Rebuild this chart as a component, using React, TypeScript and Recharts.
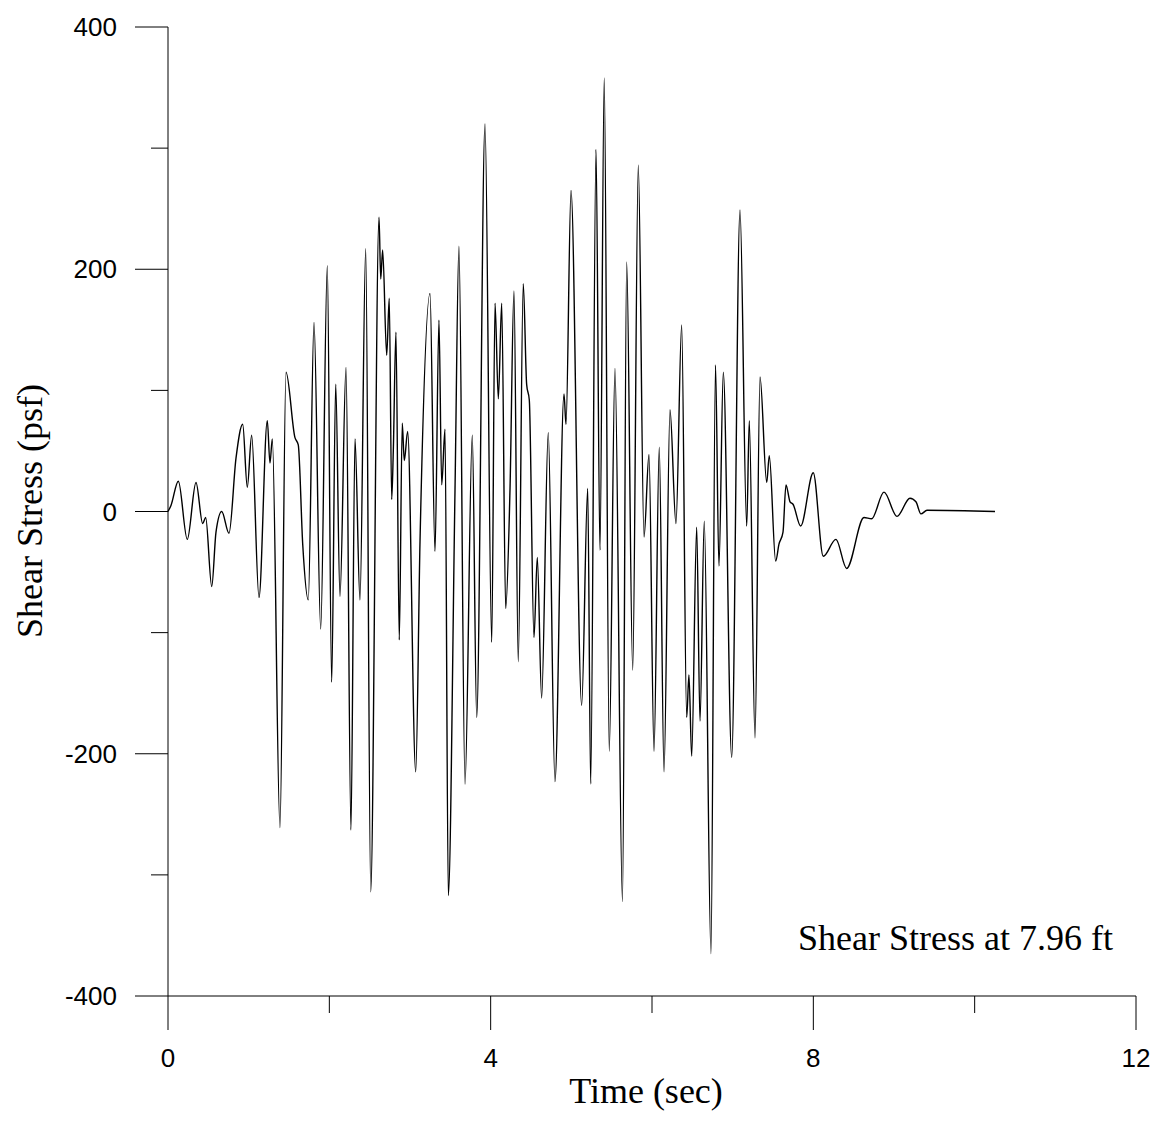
import React from 'react';
import { LineChart, Line, XAxis, YAxis, Customized } from 'recharts';

// Time (sec) of each read extreme / inflection point
const timeSec = [
  0, 0.037, 0.128, 0.239, 0.347, 0.43, 0.467, 0.542, 0.595, 0.666, 0.756, 0.843, 0.926, 0.983,
  1.037, 1.128, 1.231, 1.264, 1.293, 1.388, 1.463, 1.574, 1.615, 1.67, 1.739, 1.81, 1.893, 1.975,
  2.029, 2.079, 2.132, 2.207, 2.268, 2.318, 2.38, 2.451, 2.513, 2.616, 2.637, 2.661, 2.711, 2.743,
  2.773, 2.793, 2.826, 2.867, 2.904, 2.929, 2.971, 3.071, 3.124, 3.248, 3.31, 3.359, 3.393, 3.434,
  3.475, 3.558, 3.607, 3.682, 3.772, 3.827, 3.93, 4.013, 4.054, 4.095, 4.137, 4.186, 4.24, 4.289,
  4.342, 4.404, 4.446, 4.479, 4.537, 4.578, 4.632, 4.714, 4.797, 4.909, 4.934, 4.996, 5.128, 5.203,
  5.24, 5.306, 5.355, 5.408, 5.47, 5.541, 5.634, 5.686, 5.761, 5.83, 5.901, 5.963, 6.025, 6.09,
  6.149, 6.223, 6.297, 6.368, 6.43, 6.458, 6.492, 6.554, 6.595, 6.648, 6.731, 6.787, 6.83, 6.884,
  6.988, 7.091, 7.174, 7.206, 7.277, 7.339, 7.422, 7.454, 7.533, 7.574, 7.624, 7.661, 7.711, 7.748,
  7.843, 7.999, 8.123, 8.28, 8.413, 8.628, 8.723, 8.876, 9.037, 9.198, 9.272, 9.334, 9.409, 10.252,
];

// Shear stress (psf) at those times
const shearPsf = [
  0, 5, 25, -23, 24, -10, -5, -62, -17, 0, -18, 44, 72, 20,
  63, -71, 75, 40, 60, -261, 115, 61, 55, -27, -73, 156, -97, 203,
  -141, 105, -70, 119, -263, 60, -73, 217, -314, 243, 192, 216, 129, 176,
  10, 50, 148, -106, 73, 42, 66, -215, -25, 180, -33, 158, 22, 68,
  -317, 18, 219, -225, 63, -170, 320, -108, 172, 93, 172, -80, 19, 182,
  -124, 188, 105, 92, -104, -38, -154, 65, -223, 97, 72, 265, -160, 19,
  -225, 299, -32, 358, -198, 118, -322, 206, -131, 286, -21, 47, -198, 53,
  -215, 84, -10, 154, -170, -135, -202, -13, -173, -8, -365, 121, -45, 115,
  -203, 249, -12, 75, -187, 111, 24, 46, -41, -27, -17, 22, 8, 6,
  -12, 32, -37, -23, -47, -5, -6, 16, -4, 11, 8, -2, 1, 0,
];

const xTicks = [0, 2, 4, 6, 8, 10, 12];
const xMajorLabels = ['0', '4', '8', '12'];
const yTicks = [-400, -300, -200, -100, 0, 100, 200, 300, 400];
const yMajorLabels = ['-400', '-200', '0', '200', '400'];

const xTitle = 'Time (sec)';
const yTitle = 'Shear Stress (psf)';
const note = 'Shear Stress at 7.96 ft';

const data = timeSec.map((t, i) => ({ t, v: shearPsf[i] }));

const SANS = '"Liberation Sans", Arial, sans-serif';
const SERIF = '"Liberation Serif", "Times New Roman", serif';

const XTick = (props: any) => {
  const { x, y, payload } = props;
  const label = String(payload.value);
  const major = xMajorLabels.includes(label);
  return (
    <g>
      <line x1={x} y1={y} x2={x} y2={y + (major ? 34 : 17)} stroke="#000" strokeWidth={1} />
      {major && (
        <text x={x} y={y + 62} textAnchor="middle" dominantBaseline="central" fontSize={26} fontFamily={SANS} fill="#000">
          {label}
        </text>
      )}
    </g>
  );
};

const YTick = (props: any) => {
  const { x, y, payload } = props;
  const label = String(payload.value);
  const major = yMajorLabels.includes(label);
  return (
    <g>
      <line x1={x - (major ? 33 : 17)} y1={y} x2={x} y2={y} stroke="#000" strokeWidth={1} />
      {major && (
        <text x={x - 51} y={y} textAnchor="end" dominantBaseline="central" fontSize={26} fontFamily={SANS} fill="#000">
          {label}
        </text>
      )}
    </g>
  );
};

const Texts = () => (
  <g>
    <text x={646} y={1103} textAnchor="middle" fontSize={36} fontFamily={SERIF} fill="#000">
      {xTitle}
    </text>
    <text
      x={0}
      y={0}
      transform="translate(30,511) rotate(-90)"
      textAnchor="middle"
      dominantBaseline="central"
      fontSize={36}
      fontFamily={SERIF}
      fill="#000"
    >
      {yTitle}
    </text>
    <text x={798} y={950} textAnchor="start" fontSize={36} fontFamily={SERIF} fill="#000">
      {note}
    </text>
  </g>
);

export default function App() {
  return (
    <div style={{ position: 'absolute', left: 0, top: 0, width: 1160, height: 1124, background: '#fff' }}>
      <LineChart width={1160} height={1124} data={data} margin={{ top: 27, right: 24, bottom: 0, left: 0 }}>
        <XAxis
          dataKey="t"
          type="number"
          domain={[0, 12]}
          ticks={xTicks}
          interval={0}
          height={128}
          tickSize={0}
          tickMargin={0}
          tickLine={false}
          axisLine={{ stroke: '#000', strokeWidth: 1 }}
          tick={<XTick />}
        />
        <YAxis
          type="number"
          domain={[-400, 400]}
          ticks={yTicks}
          interval={0}
          width={168}
          tickSize={0}
          tickMargin={0}
          tickLine={false}
          axisLine={{ stroke: '#000', strokeWidth: 1 }}
          tick={<YTick />}
        />
        <Line
          type="monotone"
          dataKey="v"
          stroke="#000"
          strokeWidth={1.4}
          dot={false}
          isAnimationActive={false}
        />
        <Customized component={Texts} />
      </LineChart>
    </div>
  );
}
